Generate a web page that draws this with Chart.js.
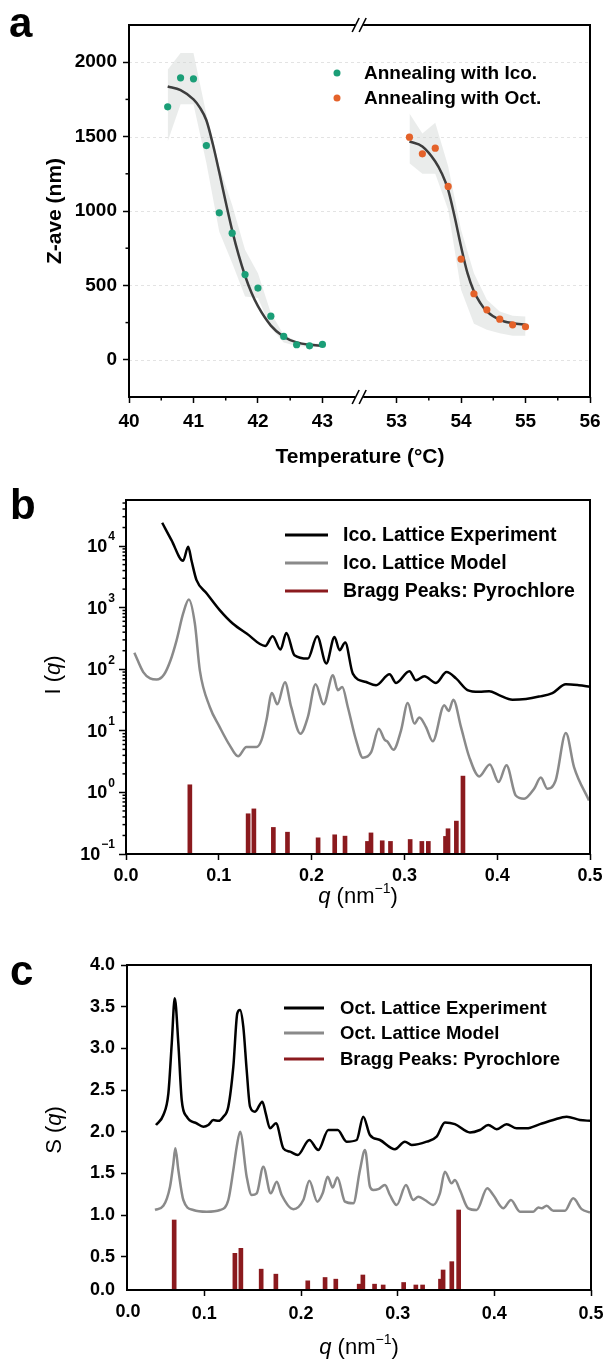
<!DOCTYPE html>
<html lang="en">
<head>
  <meta charset="UTF-8">
  <title>Z-ave / I(q) / S(q)</title>
  <script src="https://cdn.jsdelivr.net/npm/chart.js"></script>
  <style>
    body { margin: 0; background: #fff; width: 613px; height: 1362px; position: relative; overflow: hidden; }
    canvas { position: absolute; left: 0; }
    #chartA { top: 0; }
    #chartB { top: 475px; }
    #chartC { top: 930px; }
  </style>
</head>
<body>
  <canvas id="chartA" width="613" height="475"></canvas>
  <canvas id="chartB" width="613" height="455"></canvas>
  <canvas id="chartC" width="613" height="432"></canvas>

  <script>
    // ---------- panel a : Z-ave vs temperature (broken x axis) ----------
    const BREAK_SHIFT = 8.85; // 53 °C is drawn right after ~43.55 °C
    const tempTicks = [40, 41, 42, 43, 53, 54, 55, 56];
    const zTicks = [0, 500, 1000, 1500, 2000];

    const icoTemp = [40.6, 40.8, 41.0, 41.2, 41.4, 41.6, 41.8, 42.0, 42.2, 42.4, 42.6, 42.8, 43.0];
    const icoZave = [1700, 1895, 1888, 1440, 988, 851, 573, 482, 293, 157, 101, 94, 103];
    const icoFitTemp = [40.6, 40.8, 41.0, 41.1, 41.2, 41.3, 41.4, 41.5, 41.6, 41.7, 41.8, 41.9, 42.0, 42.2, 42.4, 42.6, 42.8, 43.0];
    const icoFitZave = [1837, 1812, 1750, 1695, 1610, 1450, 1260, 1060, 870, 705, 565, 450, 360, 230, 155, 117, 101, 95];
    const icoBandHi = [1949, 2061, 2061, 1650, 1300, 1040, 740, 582, 314, 168, 125, 112, 108];
    const icoBandLo = [1467, 1718, 1718, 1322, 860, 650, 425, 415, 213, 116, 92, 86, 88];

    const octTemp = [53.2, 53.4, 53.6, 53.8, 54.0, 54.2, 54.4, 54.6, 54.8, 55.0];
    const octZave = [1496, 1384, 1422, 1165, 677, 444, 336, 273, 235, 222];
    const octFitTemp = [53.2, 53.4, 53.6, 53.7, 53.8, 53.9, 54.0, 54.1, 54.2, 54.3, 54.4, 54.6, 54.8, 55.0];
    const octFitZave = [1467, 1434, 1333, 1254, 1142, 963, 761, 582, 459, 381, 325, 269, 246, 235];
    const octBandHi = [1655, 1521, 1593, 1300, 874, 582, 403, 325, 296, 291];
    const octBandLo = [1321, 1250, 1250, 1008, 470, 242, 202, 179, 161, 161];

    // ---------- panel b : icosahedral lattice I(q) ----------
    const qTicks = [0, 0.1, 0.2, 0.3, 0.4, 0.5];
    const logTicks = [0.1, 1, 10, 100, 1000, 10000];

    const expIcoQ = [0.039, 0.049, 0.0615, 0.067, 0.0705, 0.076, 0.087, 0.101, 0.115, 0.130, 0.150, 0.158, 0.1665, 0.1728, 0.1815, 0.196, 0.206, 0.2158, 0.2247, 0.2301, 0.2362, 0.2444, 0.2588, 0.2695, 0.284, 0.291, 0.3054, 0.3125, 0.3215, 0.334, 0.3455, 0.3556, 0.368, 0.3806, 0.3914, 0.402, 0.4165, 0.431, 0.445, 0.4595, 0.474, 0.488, 0.5];
    const expIcoI = [23900, 12500, 5770, 9770, 5890, 2800, 1700, 912, 553, 380, 239, 344, 209, 389, 169, 149, 344, 124, 335, 204, 272, 85, 62, 55, 83, 60, 93, 66, 77, 60, 90, 71, 46, 43, 44, 38, 32, 33, 36, 41, 57, 55, 52];

    const modelIcoQ = [0.009, 0.0186, 0.026, 0.033, 0.041, 0.048, 0.0545, 0.0616, 0.0677, 0.0742, 0.0796, 0.0903, 0.101, 0.1118, 0.1208, 0.1298, 0.1405, 0.1459, 0.1513, 0.1573, 0.163, 0.1713, 0.178, 0.188, 0.196, 0.2043, 0.2129, 0.223, 0.2283, 0.233, 0.239, 0.248, 0.2552, 0.2642, 0.2724, 0.2785, 0.282, 0.2882, 0.2964, 0.3036, 0.3108, 0.3161, 0.3233, 0.3305, 0.343, 0.3477, 0.3527, 0.361, 0.3699, 0.3806, 0.392, 0.4015, 0.41, 0.42, 0.429, 0.4398, 0.447, 0.454, 0.463, 0.474, 0.4828, 0.4989];
    const modelIcoI = [186, 90, 71, 68, 82, 140, 295, 805, 1360, 553, 95, 24.4, 11.5, 5.8, 3.85, 5.46, 5.46, 7.0, 14.8, 41.2, 26.9, 61.7, 24.4, 9.0, 16.8, 57, 26.9, 80, 45.7, 51.3, 24.4, 7.0, 3.67, 4.52, 10.8, 7.2, 6.6, 4.94, 10.2, 28.2, 13.1, 16.4, 11.5, 6.76, 26, 21, 32.1, 11.5, 3.75, 1.82, 2.85, 1.47, 2.75, 0.89, 0.79, 1.15, 1.74, 1.15, 1.57, 9.2, 2.57, 0.74];

    // pyrochlore Bragg reflections (same positions in b and c)
    const braggQ = [0.0688, 0.1316, 0.1378, 0.1588, 0.174, 0.207, 0.2249, 0.236, 0.2602, 0.264, 0.2761, 0.285, 0.3062, 0.3188, 0.3258, 0.3443, 0.347, 0.356, 0.3631];
    const braggIcoI = [1.33, 0.45, 0.54, 0.27, 0.226, 0.183, 0.205, 0.195, 0.16, 0.22, 0.164, 0.16, 0.172, 0.16, 0.16, 0.193, 0.257, 0.342, 1.84];

    // ---------- panel c : octahedral lattice S(q) ----------
    const sTicks = [0.5, 1.0, 1.5, 2.0, 2.5, 3.0, 3.5, 4.0];

    const expOctQ = [0.050, 0.0576, 0.0628, 0.0663, 0.0694, 0.0731, 0.0766, 0.0818, 0.0921, 0.099, 0.1041, 0.1093, 0.1145, 0.1197, 0.1248, 0.13, 0.1341, 0.1369, 0.1403, 0.1438, 0.1473, 0.1524, 0.16, 0.1635, 0.168, 0.1741, 0.1817, 0.1886, 0.1966, 0.2086, 0.2179, 0.2283, 0.238, 0.2472, 0.2576, 0.2644, 0.2713, 0.2817, 0.2972, 0.3075, 0.3145, 0.33, 0.3403, 0.3489, 0.3592, 0.3748, 0.3851, 0.3937, 0.4024, 0.4127, 0.4231, 0.4334, 0.4472, 0.4609, 0.4748, 0.4885, 0.4996];
    const expOctS = [2.08, 2.2, 2.46, 3.06, 3.6, 3.06, 2.38, 2.18, 2.1, 2.06, 2.08, 2.14, 2.13, 2.18, 2.3, 2.78, 3.42, 3.46, 3.26, 2.74, 2.3, 2.24, 2.36, 2.22, 2.04, 2.1, 1.8, 1.76, 1.72, 1.9, 1.78, 2.02, 2.02, 1.88, 1.9, 2.18, 1.96, 1.9, 1.79, 1.88, 1.84, 1.88, 1.94, 2.11, 2.09, 1.99, 2.02, 2.08, 2.03, 2.09, 2.04, 2.04, 2.09, 2.14, 2.18, 2.14, 2.13];

    const modelOctQ = [0.049, 0.0576, 0.0645, 0.068, 0.07, 0.0731, 0.0783, 0.0886, 0.1025, 0.1162, 0.1248, 0.13, 0.1335, 0.137, 0.1438, 0.149, 0.1542, 0.161, 0.1687, 0.1749, 0.18, 0.192, 0.2024, 0.2086, 0.2169, 0.2224, 0.2276, 0.2328, 0.2376, 0.2455, 0.2541, 0.261, 0.2662, 0.2713, 0.2748, 0.2799, 0.2869, 0.292, 0.299, 0.3086, 0.3161, 0.3213, 0.3282, 0.3368, 0.3437, 0.3489, 0.3558, 0.3592, 0.3644, 0.373, 0.3817, 0.3927, 0.3989, 0.4092, 0.4172, 0.4265, 0.4403, 0.4455, 0.449, 0.4541, 0.461, 0.473, 0.4816, 0.4903, 0.4989];
    const modelOctS = [1.06, 1.11, 1.34, 1.62, 1.8, 1.54, 1.18, 1.06, 1.04, 1.06, 1.18, 1.54, 1.82, 2.0, 1.46, 1.24, 1.26, 1.58, 1.26, 1.4, 1.24, 1.07, 1.18, 1.41, 1.16, 1.26, 1.46, 1.33, 1.45, 1.16, 1.14, 1.54, 1.78, 1.34, 1.3, 1.31, 1.36, 1.24, 1.12, 1.36, 1.18, 1.22, 1.18, 1.12, 1.26, 1.52, 1.38, 1.42, 1.3, 1.08, 1.06, 1.32, 1.24, 1.08, 1.18, 1.04, 1.04, 1.09, 1.08, 1.11, 1.05, 1.05, 1.2, 1.07, 1.03];

    const braggOctS = [0.94, 0.54, 0.6, 0.35, 0.29, 0.21, 0.25, 0.23, 0.17, 0.28, 0.17, 0.16, 0.19, 0.16, 0.16, 0.23, 0.34, 0.44, 1.06];
  </script>

  <script>
    const FONT = '"Liberation Sans", Arial, Helvetica, sans-serif';
    const tickFont = { family: FONT, size: 18, weight: 'bold' };
    const GREEN = '#1b9e77', ORANGE = '#e4622a', FIT = '#3d3d3d', BAND = 'rgba(205,210,208,0.42)';
    const GRAY = '#8a8a8a', RED = '#8b1a1e';

    // temperature -> position on the broken axis
    function axT(t) { return t > 50 ? t - BREAK_SHIFT : t; }
    function pts(xs, ys, fx) { return xs.map((x, i) => ({ x: fx ? fx(x) : x, y: ys[i] })); }

    const gridOpts = { drawOnChartArea: false, drawTicks: true, tickLength: 6, tickWidth: 1.5, tickColor: '#000', color: '#000' };

    // draws a text made of runs with different fonts, centred on (x, y)
    function drawRuns(ctx, runs, x, y, rot) {
      ctx.save();
      ctx.translate(x, y);
      if (rot) ctx.rotate(rot);
      let w = 0;
      runs.forEach(r => { ctx.font = r.f; w += ctx.measureText(r.t).width; });
      let cx = -w / 2;
      ctx.textBaseline = 'middle';
      ctx.textAlign = 'left';
      ctx.fillStyle = '#000';
      runs.forEach(r => {
        ctx.font = r.f;
        ctx.fillText(r.t, cx, r.dy || 0);
        cx += ctx.measureText(r.t).width;
      });
      ctx.restore();
    }

    function deco(d) {
      return {
        id: 'deco',
        beforeDatasetsDraw(chart) {
          if (!d.hGrid) return;
          const { ctx, chartArea: a, scales: { y } } = chart;
          ctx.save();
          ctx.strokeStyle = '#e3e3e3';
          ctx.lineWidth = 1;
          ctx.setLineDash([3, 3]);
          d.hGrid.forEach(v => {
            const py = Math.round(y.getPixelForValue(v)) + 0.5;
            ctx.beginPath(); ctx.moveTo(a.left, py); ctx.lineTo(a.right, py); ctx.stroke();
          });
          ctx.restore();
        },
        afterDraw(chart) {
          const { ctx, chartArea: a, scales: { x, y } } = chart;
          ctx.save();
          ctx.strokeStyle = '#000';
          ctx.fillStyle = '#000';
          ctx.lineWidth = 1.5;
          (d.minorX || []).forEach(v => {
            const px = x.getPixelForValue(v);
            ctx.beginPath(); ctx.moveTo(px, a.bottom); ctx.lineTo(px, a.bottom + 3.5); ctx.stroke();
          });
          (d.minorY || []).forEach(v => {
            const py = y.getPixelForValue(v);
            ctx.beginPath(); ctx.moveTo(a.left, py); ctx.lineTo(a.left - 3.5, py); ctx.stroke();
          });
          // axis box
          ctx.lineWidth = 2;
          ctx.strokeRect(a.left, a.top, a.right - a.left, a.bottom - a.top);

          // axis break marks
          if (d.breakAt !== undefined) {
            const bx = x.getPixelForValue(d.breakAt);
            [a.top, a.bottom].forEach(by => {
              ctx.save();
              ctx.fillStyle = '#fff';
              ctx.fillRect(bx - 4, by - 2, 8, 4);
              ctx.lineWidth = 1.6;
              [-3.5, 3.5].forEach(dx => {
                ctx.beginPath();
                ctx.moveTo(bx + dx - 3.5, by + 7);
                ctx.lineTo(bx + dx + 3.5, by - 7);
                ctx.stroke();
              });
              ctx.restore();
            });
          }

          // 10^n labels for the log axis
          if (d.logLabels) {
            d.logLabels.forEach(e => {
              const py = y.getPixelForValue(Math.pow(10, e));
              const xr = a.left - 11;
              const sup = e < 0 ? '\u2212' + (-e) : String(e);
              ctx.font = 'bold 12px ' + FONT;
              const ws = ctx.measureText(sup).width;
              ctx.textAlign = 'left';
              ctx.textBaseline = 'middle';
              ctx.fillText(sup, xr - ws, py - 9);
              ctx.font = 'bold 18px ' + FONT;
              ctx.textAlign = 'right';
              ctx.fillText('10', xr - ws - 1, py + 1);
            });
          }

          // corner labels drawn outside the axis box
          (d.extraLabels || []).forEach(l => {
            ctx.font = 'bold 18px ' + FONT;
            ctx.textAlign = l.align;
            ctx.textBaseline = 'middle';
            ctx.fillText(l.t, l.px, l.py);
          });

          // legend
          (d.legend || []).forEach(it => {
            if (it.dot) {
              ctx.beginPath(); ctx.arc(it.x, it.y, 3.5, 0, Math.PI * 2);
              ctx.fillStyle = it.color; ctx.fill();
            } else {
              ctx.beginPath(); ctx.lineWidth = 3; ctx.strokeStyle = it.color;
              ctx.moveTo(it.x, it.y); ctx.lineTo(it.x2, it.y); ctx.stroke();
            }
            ctx.fillStyle = '#000';
            ctx.font = it.font;
            ctx.textAlign = 'left';
            ctx.textBaseline = 'middle';
            ctx.fillText(it.text, it.tx, it.y + 1);
          });

          // axis titles
          (d.titles || []).forEach(t => drawRuns(ctx, t.runs, t.x, t.y, t.rot));

          // panel letter
          ctx.fillStyle = '#000';
          ctx.font = 'bold 42px ' + FONT;
          ctx.textAlign = 'left';
          ctx.textBaseline = 'alphabetic';
          ctx.fillText(d.letter.t, d.letter.x, d.letter.y);
          ctx.restore();
        }
      };
    }

    const baseOpts = {
      responsive: false,
      animation: false,
      events: [],
      plugins: { legend: { display: false }, tooltip: { enabled: false } }
    };

    // ===================== panel a =====================
    new Chart(document.getElementById('chartA'), {
      type: 'line',
      data: {
        datasets: [
          { data: pts(icoTemp, icoZave), showLine: false, pointRadius: 3.6, pointBorderWidth: 0, pointBackgroundColor: GREEN, borderColor: GREEN, order: 0 },
          { data: pts(octTemp, octZave, axT), showLine: false, pointRadius: 3.6, pointBorderWidth: 0, pointBackgroundColor: ORANGE, borderColor: ORANGE, order: 0 },
          { data: pts(icoFitTemp, icoFitZave), borderColor: FIT, borderWidth: 2.5, pointRadius: 0, cubicInterpolationMode: 'monotone', order: 1 },
          { data: pts(octFitTemp, octFitZave, axT), borderColor: FIT, borderWidth: 2.5, pointRadius: 0, cubicInterpolationMode: 'monotone', order: 1 },
          { data: pts(icoTemp, icoBandHi), borderColor: 'transparent', pointRadius: 0, fill: '+1', backgroundColor: BAND, order: 2 },
          { data: pts(icoTemp, icoBandLo), borderColor: 'transparent', pointRadius: 0, fill: false, order: 2 },
          { data: pts(octTemp, octBandHi, axT), borderColor: 'transparent', pointRadius: 0, fill: '+1', backgroundColor: BAND, order: 2 },
          { data: pts(octTemp, octBandLo, axT), borderColor: 'transparent', pointRadius: 0, fill: false, order: 2 }
        ]
      },
      options: {
        ...baseOpts,
        layout: { padding: { left: 0, right: 23, top: 25, bottom: 0 } },
        scales: {
          x: {
            type: 'linear', min: 40, max: 56 - BREAK_SHIFT, offset: false,
            afterFit: s => { s.height = 78; },
            afterBuildTicks: s => { s.ticks = tempTicks.map(t => ({ value: axT(t) })); },
            ticks: { font: { ...tickFont, size: 19 }, color: '#000', padding: 7, autoSkip: false, maxRotation: 0,
              callback: v => String(Math.round(v > 43.6 ? v + BREAK_SHIFT : v)) },
            grid: gridOpts, border: { display: false }
          },
          y: {
            type: 'linear', min: -250, max: 2250,
            afterFit: s => { s.width = 129; },
            afterBuildTicks: s => { s.ticks = zTicks.map(v => ({ value: v })); },
            ticks: { font: { ...tickFont, size: 19 }, color: '#000', padding: 6, callback: v => String(v) },
            grid: gridOpts, border: { display: false }
          }
        }
      },
      plugins: [deco({
        hGrid: zTicks,
        minorX: [40.5, 41.5, 42.5, 53.5, 54.5, 55.5].map(axT),
        minorY: [250, 750, 1250, 1750],
        breakAt: 43.57,
        legend: [
          { dot: true, x: 337, y: 73, color: GREEN, text: 'Annealing with Ico.', tx: 364, font: 'bold 19px ' + FONT },
          { dot: true, x: 337, y: 98, color: ORANGE, text: 'Annealing with Oct.', tx: 364, font: 'bold 19px ' + FONT }
        ],
        titles: [
          { runs: [{ t: 'Z-ave (nm)', f: 'bold 21px ' + FONT }], x: 55, y: 211, rot: -Math.PI / 2 },
          { runs: [{ t: 'Temperature (\u00B0C)', f: 'bold 21px ' + FONT }], x: 360, y: 457 }
        ],
        letter: { t: 'a', x: 9, y: 37 }
      })]
    });

    // ===================== panel b =====================
    const minorLog = [];
    for (let e = -1; e <= 4; e++) for (let m = 2; m <= 9; m++) if (m * Math.pow(10, e) < 56000) minorLog.push(m * Math.pow(10, e));

    new Chart(document.getElementById('chartB'), {
      type: 'line',
      data: {
        datasets: [
          { type: 'line', data: pts(expIcoQ, expIcoI), borderColor: '#000', borderWidth: 2.5, pointRadius: 0, cubicInterpolationMode: 'monotone', order: 0 },
          { type: 'line', data: pts(modelIcoQ, modelIcoI), borderColor: GRAY, borderWidth: 2.5, pointRadius: 0, cubicInterpolationMode: 'monotone', order: 1 },
          { type: 'bar', data: pts(braggQ, braggIcoI), backgroundColor: RED, barThickness: 4, base: 0.1, grouped: false, order: 2 }
        ]
      },
      options: {
        ...baseOpts,
        layout: { padding: { left: 0, right: 23, top: 25, bottom: 0 } },
        scales: {
          x: {
            type: 'linear', min: 0, max: 0.5, offset: false,
            afterFit: s => { s.height = 76; },
            afterBuildTicks: s => { s.ticks = qTicks.map(v => ({ value: v })); },
            ticks: { font: tickFont, color: '#000', padding: 5, autoSkip: false, maxRotation: 0, callback: v => v.toFixed(1) },
            grid: { ...gridOpts, offset: false }, border: { display: false }
          },
          y: {
            type: 'logarithmic', min: 0.1, max: 56000,
            afterFit: s => { s.width = 126; },
            afterBuildTicks: s => { s.ticks = logTicks.map(v => ({ value: v })); },
            ticks: { display: false },
            grid: { ...gridOpts, tickLength: 7 }, border: { display: false }
          }
        }
      },
      plugins: [deco({
        minorY: minorLog,
        logLabels: [-1, 0, 1, 2, 3, 4],
        legend: [
          { x: 285, x2: 328, y: 60, color: '#000', text: 'Ico. Lattice Experiment', tx: 343, font: 'bold 19.5px ' + FONT },
          { x: 285, x2: 328, y: 88, color: GRAY, text: 'Ico. Lattice Model', tx: 343, font: 'bold 19.5px ' + FONT },
          { x: 285, x2: 328, y: 116, color: RED, text: 'Bragg Peaks: Pyrochlore', tx: 343, font: 'bold 19.5px ' + FONT }
        ],
        titles: [
          { runs: [{ t: 'I (', f: '22px ' + FONT }, { t: 'q', f: 'italic 22px ' + FONT }, { t: ')', f: '22px ' + FONT }], x: 54, y: 200, rot: -Math.PI / 2 },
          { runs: [{ t: 'q', f: 'italic 22px ' + FONT }, { t: ' (nm', f: '22px ' + FONT }, { t: '\u22121', f: '14px ' + FONT, dy: -8 }, { t: ')', f: '22px ' + FONT }], x: 358, y: 422 }
        ],
        letter: { t: 'b', x: 10, y: 44 }
      })]
    });

    // ===================== panel c =====================
    new Chart(document.getElementById('chartC'), {
      type: 'line',
      data: {
        datasets: [
          { type: 'line', data: pts(expOctQ, expOctS), borderColor: '#000', borderWidth: 2.5, pointRadius: 0, cubicInterpolationMode: 'monotone', order: 0 },
          { type: 'line', data: pts(modelOctQ, modelOctS), borderColor: GRAY, borderWidth: 2.5, pointRadius: 0, cubicInterpolationMode: 'monotone', order: 1 },
          { type: 'bar', data: pts(braggQ, braggOctS), backgroundColor: RED, barThickness: 4, grouped: false, order: 2 }
        ]
      },
      options: {
        ...baseOpts,
        layout: { padding: { left: 0, right: 22, top: 35, bottom: 0 } },
        scales: {
          x: {
            type: 'linear', min: 0.02, max: 0.5, offset: false,
            afterFit: s => { s.height = 72; },
            afterBuildTicks: s => { s.ticks = qTicks.filter(v => v > 0).map(v => ({ value: v })); },
            ticks: { font: tickFont, color: '#000', padding: 7, autoSkip: false, maxRotation: 0, callback: v => v.toFixed(1) },
            grid: { ...gridOpts, offset: false }, border: { display: false }
          },
          y: {
            type: 'linear', min: 0.1, max: 4.0,
            afterFit: s => { s.width = 127; },
            afterBuildTicks: s => { s.ticks = sTicks.map(v => ({ value: v })); },
            ticks: { font: tickFont, color: '#000', padding: 6, callback: v => v.toFixed(1) },
            grid: gridOpts, border: { display: false }
          }
        }
      },
      plugins: [deco({
        extraLabels: [
          { px: 128, py: 382, t: '0.0', align: 'center' },
          { px: 115, py: 360, t: '0.0', align: 'right' }
        ],
        legend: [
          { x: 284, x2: 324, y: 78, color: '#000', text: 'Oct. Lattice Experiment', tx: 340, font: 'bold 18.5px ' + FONT },
          { x: 284, x2: 324, y: 103, color: GRAY, text: 'Oct. Lattice Model', tx: 340, font: 'bold 18.5px ' + FONT },
          { x: 284, x2: 324, y: 129, color: RED, text: 'Bragg Peaks: Pyrochlore', tx: 340, font: 'bold 18.5px ' + FONT }
        ],
        titles: [
          { runs: [{ t: 'S (', f: '22px ' + FONT }, { t: 'q', f: 'italic 22px ' + FONT }, { t: ')', f: '22px ' + FONT }], x: 55, y: 200, rot: -Math.PI / 2 },
          { runs: [{ t: 'q', f: 'italic 22px ' + FONT }, { t: ' (nm', f: '22px ' + FONT }, { t: '\u22121', f: '14px ' + FONT, dy: -8 }, { t: ')', f: '22px ' + FONT }], x: 359, y: 418 }
        ],
        letter: { t: 'c', x: 10, y: 55 }
      })]
    });
  </script>
</body>
</html>
